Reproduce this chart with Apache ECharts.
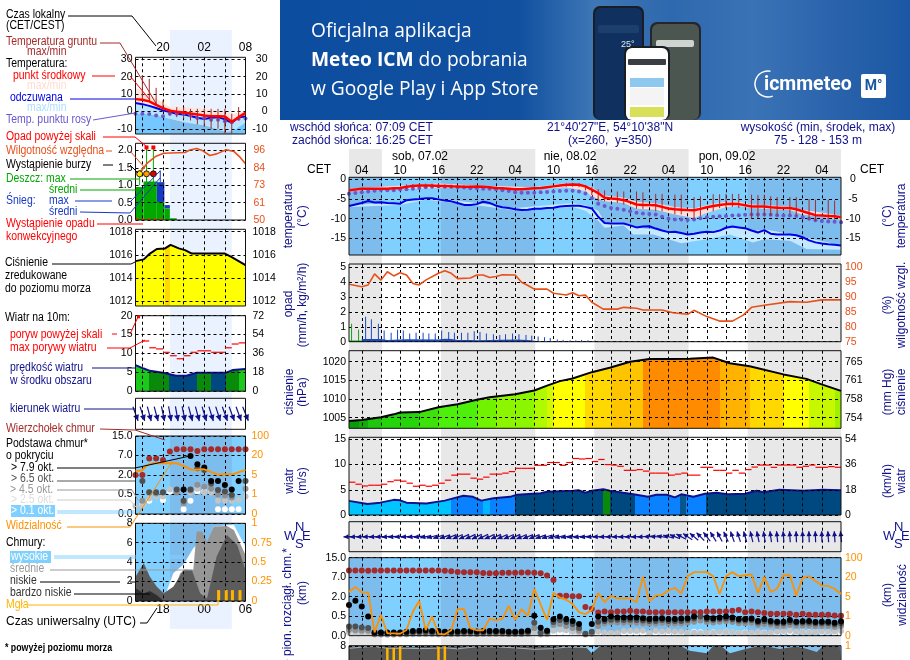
<!DOCTYPE html>
<html>
<head>
<meta charset="utf-8">
<title>Meteogram ICM</title>
<style>
html,body{margin:0;padding:0;background:#fff;overflow:hidden}
#myCanvas{width:910px;height:660px}
</style>
<script src="https://cdn.jsdelivr.net/npm/echarts@6/dist/echarts.min.js"></script>
</head>
<body>
<div id="myCanvas"></div>
<script>
// ---- main (right) meteogram, x = hours since 02:00 sat 07.02 -------------
var mainNight = [[0,5.15],[14.4,29.15],[38.4,53.15],[62.4,77]];
var mainGridHours = [2,5,8,11,14,17,20,23,26,29,32,35,38,41,44,47,50,53,56,59,62,65,68,71,74];
var mainLabelHours = [2,8,14,20,26,32,38,44,50,56,62,68,74];

var mainTemp = [-2.8,-2.6,-2.4,-2.4,-2.4,-2.4,-2.4,-2.3,-2.2,-1.9,-1.7,-1.6,-1.6,-1.6,-1.7,-1.7,-1.8,-1.85,-1.9,-1.9,
  -1.85,-1.9,-2.0,-2.2,-2.3,-2.4,-2.5,-2.5,-2.4,-2.3,-2.2,-2.0,-1.8,-1.6,-1.4,-1.3,-1.4,-1.8,-2.6,-3.5,
  -4.7,-4.9,-5.0,-5.3,-5.8,-6.4,-6.5,-6.5,-6.6,-7.0,-7.4,-7.6,-7.7,-7.8,-7.85,-7.5,-7.1,-6.8,-6.5,-6.3,
  -6.2,-6.3,-6.6,-6.9,-6.9,-6.9,-7.1,-7.2,-7.3,-7.3,-7.6,-8.1,-8.6,-9.1,-9.2,-9.3,-9.4,-9.6];
var mainFeels = [-6.8,-6.4,-6.0,-5.5,-5.9,-5.8,-6.0,-6.1,-6.2,-5.3,-5.1,-5.0,-4.8,-4.8,-5.1,-5.4,-5.6,-6.0,-6.5,-6.5,
  -6.3,-5.7,-6.0,-6.7,-7.1,-7.3,-7.6,-7.8,-7.7,-7.5,-7.5,-7.3,-7.2,-6.9,-6.8,-6.7,-6.7,-7.0,-7.4,-9.5,
  -11.1,-11.2,-11.2,-11.2,-11.7,-12.2,-12.0,-11.9,-12.5,-13.0,-13.4,-13.3,-13.6,-14,-13.8,-13.5,-13.3,-13.4,-13,-12.3,
  -12,-12.2,-12.4,-13,-13.5,-12.9,-13.8,-14,-14,-14,-14.2,-14.7,-15.5,-16,-16.3,-16.5,-16.6,-16.8];
var mainDew = [-3.7,-3.5,-3.3,-3.1,-2.9,-2.7,-2.8,-2.8,-2.6,-2.5,-2.4,-2.2,-2.0,-1.9,-1.8,-1.9,-1.9,-2.0,-2.1,-2.3,
  -2.3,-2.4,-2.4,-2.5,-2.8,-3.0,-3.3,-3.4,-3.4,-3.4,-3.3,-3.2,-3.1,-3.0,-2.9,-2.9,-3.1,-3.6,-4.8,-6.2,
  -6.8,-7.3,-7.5,-7.7,-8.1,-8.5,-8.7,-8.8,-8.9,-9.5,-10,-10.2,-10.2,-10.3,-10.2,-9.9,-9.6,-9.5,-9.4,-9.3,
  -9.2,-9.1,-9.0,-8.9,-8.9,-8.9,-9.0,-9.1,-9.2,-9.2,-9.3,-9.6,-10,-10.4,-10.6,-10.7,-10.8,-10.9];
var tempBandHours = [0,9,14,20,29,34,37,38,40,43,45,48,51,54,56,59,61,63,69,71,77];
var tempBandHi = [-2.4,-1.5,-1.1,-1.6,-2,-1,-1.5,-2.0,-4.1,-4.7,-5.7,-6.1,-7,-7.4,-6.6,-5.7,-5.7,-6.4,-6.9,-7.7,-9.2];
var tempBandLo = [-3,-2.4,-2.2,-2.2,-2.6,-2,-3,-4.3,-5.6,-6,-7.5,-7.7,-8.9,-9.8,-8.5,-7.1,-6.8,-7.3,-7.8,-8.9,-10.2];
var feelsBandHours = [0,8,12,20,26,35,37,39,40,43,44.5,47.6,52,56,59.6,63.2,65,69,71.6,77];
var feelsBandHi = [-6.5,-5.9,-4.5,-6,-7.3,-6,-6.5,-8,-10.9,-11,-12.2,-12.7,-13.9,-13.5,-11.9,-13.2,-12.7,-13.9,-14.8,-16.7];
var feelsBandLo = [-7,-6.5,-5.2,-6.6,-7.9,-7,-8,-10.5,-12.3,-11.7,-14,-14,-16.2,-15.2,-14,-16,-15.2,-15.6,-17.7,-17.9];
var soilHours = [9,10,11,12,13,14,15,16,17,18,19,34,35,36,37,38,39,40,42,43,45,46,48,49,51,52,54,55,57,58,59,60,61,63,64,65,66,67,69,70,72,73,75,76];
var soilMax = [-1.3,-1.2,-1.1,-1.1,-1.1,-1.2,-1.3,-1.4,-1.5,-1.6,-1.6,-1,-.9,-1,-1.5,-2,-2.5,-2.8,-3.1,-3.1,-3.1,-3.3,-3.7,-3.7,-3.9,-3.9,-4.5,-4.3,-3.8,-3.8,-3.7,-3.7,-3.7,-3.9,-4,-3.9,-4.3,-4.5,-4.5,-4.5,-5,-5.2,-5.2,-5.4];
var soilMin = [-2.3,-2.2,-2.2,-2.1,-2.1,-2.2,-2.2,-2.2,-2.2,-2.2,-2.2,-1.9,-1.8,-2,-2.8,-4,-5.6,-5.6,-6,-6.4,-7.5,-7.5,-8.1,-8.1,-8.9,-8.9,-10.2,-9.3,-8.1,-7.3,-7.3,-7,-7.3,-10,-9.8,-9.3,-9.3,-9.2,-8.9,-9.3,-10.2,-10.6,-10.2,-10.2];

var humHours = [0,2,3,4,5,6,7,8,9,10,11,12,14,15,16,17,19,20,21,22,23,24,26,27,28,29,31,32,34,35,36,37,38,39.8,42,43,45,46,49,50.7,53,54,56,58,60,61.7,63,65,69,71.6,74,77];
var humidity = [94.2,93.4,94,97.7,95.6,98.4,97,98.1,97.3,94.5,94,95.6,97.9,98.7,97.9,96.1,96.3,97.3,97.3,96.5,96.8,97.4,97.3,94.9,93.8,92.6,92.6,91.2,90.6,91.4,90.4,90.6,88.2,85.9,85.9,86.5,86.2,85.6,85.6,84.7,84.2,85.5,83.4,81.9,81.9,83.9,86.5,87.2,88.4,88.2,89,89];
var rainMaxHours = [.4,1.5];
var rainMax = [1.2,.8];
var snowMaxHours = [2.6,3.5,4.6,5.5,6.6,7.6,8.5,9.5,10.5,11.6,12.5,13.5,14.5,15.6,16.5,17.6,18.6,19.6,20.5,21.5,22.6,23.6,24.5,25.6,26.6,27.7,28.6,29.6,30.6,31.5,32.6,33.5,34.6,35.5,36.4,37.4,38.5];
var snowMax = [1.67,1.5,1.2,.75,.6,.8,.75,.55,.6,.6,.55,.55,.75,.65,.6,.6,.6,.7,.65,.55,.5,.45,.5,.55,.5,.45,.4,.35,.3,.25,.15,.12,.1,.1,.12,.1,.08];
var snowMeanHours = [2,5,6,8,9,14,15,16,17,19,20,26,28,29,30];
var snowMean = [.18,.18,.12,.15,.16,.14,.2,.18,.12,.12,.1,.14,.12,.06,0];

var pressHours = [0,2,5,7,8,11,14,17,20,22,26,29,31,33,35,38,40.8,44,47,50.2,53.3,57,59.6,62.7,68,71.6,74.2,77];
var pressure = [1004.1,1004.4,1005.1,1005.9,1006.4,1006.5,1007.8,1008.6,1009.8,1010.5,1011.3,1012.3,1013.6,1014.8,1015.5,1017.2,1018.4,1020,1020.7,1020.7,1020.8,1021.1,1019.6,1018.8,1016.6,1015.4,1013.8,1012.2];
var pressColorEnds = [1.5,3,5,11,14,20,23,29,31,32,37,41,46,58,62.7,68,72,76,77];
var pressColors = ['#0a9a0a','#11ae0b','#1ec70e','#26d40c','#3ce20a','#4cf00a','#70f200','#8cf600','#b0fa00','#d4f800','#ffff00','#ffd800','#ffc400','#ff8c00','#ffb200','#ffd800','#ffff00','#c8f800','#a0f000'];

var windHours = [0,2.9,4.9,7,8,9,12.1,15,16.3,17.9,19.4,20.7,22.6,25.2,26.3,30,31,35.1,35.9,37,38,39.8,40.8,42.9,44.5,46.8,48.1,49.7,51,52,53.9,55.7,57.5,59.3,62,63.8,64.8,67.4,71.1,74.2,77];
var wind = [2.8,2.2,2.45,3,2.9,2.45,2.3,2.85,3.3,3.8,3.6,2.85,3.3,3.6,4,4.3,4.6,4.8,4.9,4.4,4.8,5.1,4.8,4.4,4.1,3.6,4,4,3.5,4.1,3.6,4.2,4.4,4.1,4.2,4.8,4.5,5,4.8,5,4.9];
var windColorEnds = [16,21,22,26,39.8,40.8,44.7,51.8,52.8,55.9,77];
var windColors = ['#00c4ff','#0a82ff','#00b4ff','#0a82ff','#004880','#0a8a0a','#004880','#0a82ff','#04568c','#0a82ff','#004880'];
var gust = [6.5,6.1,5.75,5.9,5.9,6.1,6.6,6.9,6.7,6.3,5.7,5.9,5.7,5.9,6.3,6.9,7.9,8.1,8.1,7.3,7.1,7.5,8.1,8.1,8.3,8.6,9.25,9.25,9.25,9.85,9.85,10.4,10.4,9.85,10.4,11.2,11.1,11.2,10.6,
  11,10,9.9,9.65,8.85,8.85,9,8.7,8.3,8.3,8.3,7.9,8.1,8.3,7.9,7.9,9.45,9.45,8.85,8.85,8.3,8.85,8.3,9,9.5,9.9,9.9,9.45,9.9,9.9,9.9,9.45,9.65,9.9,9.45,9.45,9.6,9.45];
var mainDir = [88,88,87,87,86,86,85,85,84,84,83,82,
  78,75,72,70,68,66,65,65,64,64,65,65,66,66,65,66,68,68,70,72,74,76,78,80,80,
  82,84,86,88,88,88,88,88,88,88,
  92,96,100,106,112,118,124,130,136,142,148,
  152,156,160,162,164,166,168,170,172,174,176,176,178,178,178,178,178,176,176,174];

// cloud heights and visibility: position on the uneven axis (0=0, 1=0.5km, 2=2km, 3=7km, 4=15km; 0,1,5,20,100 km for visibility)
var heightTicks = [0,1,2,3,4];
var heightLabels = ['0.0','0.5','2.0','7.0','15.0'];
var visLabels = ['0','1','5','20','100'];
var mainVis = [2.24,2.5,2.22,2.21,.17,1.07,.12,.12,.1,.29,1.24,1.79,.29,.98,.09,.07,.28,1.36,1.36,.38,.28,.28,.86,.79,.86,1.53,.81,1.36,1.03,2.41,1.59,.81,2.21,1.95,1.84,1.62,1.21,1.1,1.33,2.19,
  1.71,2.05,1.91,1.91,1.91,1.72,3.03,1.76,2.05,2.09,2.33,2.45,2.17,3.05,3.26,3.26,3.26,3.05,2.14,3.05,3.26,3.05,3.1,3.14,2.19,3.02,2.24,2.41,3.1,3.1,2.05,2.97,3.05,2.8,2.57,2.55,2.41,2.14];
var mainCloudTop = [3.34,3.34,3.34,3.33,3.34,3.34,3.35,3.35,3.34,3.34,3.34,3.34,3.34,3.34,3.34,
  3.33,3.3,3.27,3.26,3.26,3.26,3.22,3.2,3.2,3.23,3.23,3.23,3.24,3.24,
  3.23,3.2,3.09,2.86,2.05,2.05,2.02,2.02,1.47,1.38,1.19,
  1.24,1.2,1.24,1.24,1.28,1.24,1.24,1.2,1.2,1.2,1.2,1.2,1.2,1.2,1.2,1.2,1.24,1.24,1.24,1.24,1.28,1.32,1.2,1.24,1.2,1.16,1.12,1.12,1.12,1.12,1.08,1.12,1.08,1.08,1.08,1.08,1.04,1.02];
var mainBase79 = [1.58,1.79,1.5,.98,.17,.16,.16,.16,.17,.2,.24,.26,.28,.24,.24,.2,.2,.22,.24,.24,.22,.24,.24,.24,.24,.2,.2,.22,.26,
  1.02,.41,.26,.84,.98,.84,.76,.6,null,.6,.98,
  .86,.98,.93,.93,.93,.93,.9,.86,.88,.9,.86,.86,.88,.9,.98,null,.93,.9,.93,.98,.93,.86,.86,.88,
  .76,.84,.76,.72,.72,.8,.72,.74,.76,.7,.72,.72,.66,.74];
var mainBase65 = [.47,.47,.42,.4,.12,.12,.12,.12,.13,.14,.16,.18,.18,.16,.14,.14,.14,.14,.16,.16,.14,.16,.16,.16,.16,.14,.14,.14,.18,
  .67,.17,.2,.7,.8,.7,.6,.4,.1,.2,.72,
  .75,.82,.82,.8,.82,.8,.78,.75,.75,.8,.76,.76,.76,.8,.88,.98,.84,.82,.86,.88,.84,.78,.78,.8,.68,.74,.68,.64,.64,.7,.66,.66,.66,.62,.64,.64,.58,.64];
var mainBase45 = [.3,.28,.26,.25,.08,.08,.08,.08,.1,.1,.12,.13,.13,.12,.1,.1,.1,.1,.12,.12,.1,.12,.12,.12,.12,.1,.1,.1,.13,
  .4,.1,.12,.55,.6,.5,.4,.25,.08,.1,.5,
  .62,.68,.68,.66,.68,.66,.64,.62,.62,.66,.62,.62,.62,.66,.72,.78,.7,.68,.72,.74,.7,.64,.64,.66,.56,.6,.56,.5,.5,.56,.52,.52,.52,.48,.5,.5,.45,.5];
var mainBase25 = [.16,.16,.12,.12,.05,.05,.05,.05,.06,.06,.07,.08,.08,.07,.06,.06,.06,.06,.07,.07,.06,.07,.07,.07,.07,.06,.06,.06,.08,
  .12,.06,.08,.25,.3,.28,.2,.15,.06,.14,.2,
  .16,.15,.14,.24,.24,.24,.26,.14,.24,.22,.24,.2,.2,.14,.16,.14,.16,.16,.2,.2,.18,.14,.14,.16,.18,.14,.16,.2,.24,.26,.2,.2,.18,.2,.22,.2,.22,.24];
var mainBase01 = [.1,.1,.08,.08,.03,.03,.03,.03,.04,.04,.05,.05,.05,.05,.04,.04,.04,.04,.05,.05,.04,.05,.05,.05,.05,.04,.04,.04,.05,
  .06,.04,.05,.1,.12,.12,.1,.1,.04,.06,.1,
  .1,.1,.1,.12,.12,.12,.12,.1,.14,.14,.14,.12,.12,.14,.2,.18,.14,.18,.14,.2,.16,.14,.16,.12,.16,.16,.14,.14,.2,.18,.18,.2,.18,.2,.18,.18,.16,.12];
var mainLowHours = [0,1.7,3.8,4.9,5.9,10,12.2,15.3,20.5,25.7,30.9,36.1,37.2,38,39.3,42.9,44,50.2,52,53.3,56,57,58.3,59.6,62.2,63.8,65.9,67.4,70,71.6,73.2,74.2,76.8,77];
var mainLowCloud = [7.66,7.9,7.66,7.83,8,7.5,7.83,7.9,7.76,7.83,7.83,7.66,7.14,5,7.83,8,7.66,8,7.83,6,5,7.93,7.83,5,6.8,7.66,7.55,6.7,7.76,6.8,5.5,8,8,8];
var mainMidHours = [0,2,4,6,9,12,15,17,20,23,26,29,32,34,38];
var mainMidCloud = [7,7.5,7.8,7,7,6.9,7.2,6.8,7.7,7.6,7.2,6.6,6.9,7.5,7.4];
var mainFogHours = [6,7,8,14,15];
var mainFog = [.9,.9,1,.98,1];

// ---- left legend meteogram, x = hours from the panel's left edge ---------
var leftNight = [[5,14]];
var leftGridHours = [1,4,7,10,13];
var leftLabelHours = [4,10,16];
var leftTemp = [7.1,6.7,5.8,3.8,1.9,.4,-.2,-.6,-1.2,-1.7,-2.4,-2.7,-2.8,-2.9,-6,-3.3,-.8];
var leftFeels = [4.8,4.2,3.2,2,.6,-.4,-1.3,-1.7,-2.6,-3.6,-4.4,-3.6,-3.3,-4.6,-6.6,-3.4,-2.9];
var leftDew = [-1.4,-1.3,-1.5,-2.3,-2.7,-1.3,-1.3,-1.4,-2.3,-3.8,-3.8,-4.8,-4.8,-5.6,-6.2,-4.2,-4];
var leftSoilHours = [1,2,3,4,5,6,7,8,9,10,11,12,13,14,15];
var leftSoilMax = [20.8,18.8,13.6,6.4,1.5,2.5,2.5,1.5,1.5,1.5,1.5,1.5,1.5,-1.3,2.5];
var leftSoilMin = [6.7,5.8,3.8,1.9,-2.3,-3.3,-4.2,-5.2,-7.5,-8.7,-10,-10,-12.8,-12.8,-5.2];
var leftBandHours = [0,1.2,3.1,5,7.1,10.1,13.2,14.3,16];
var leftPinkHi = [13.5,11.2,7.3,2.5,2.5,1.5,-.4,-1.3,.6];
var leftPinkLo = [4.4,4,1.5,-.8,-1.3,-3.3,-4.2,-6.7,-2.3];
var leftPaleLo = [-1.3,-1.3,-2.3,-4.2,-6.2,-8.1,-11.9,-11,-6.2];
var leftHumHours = [0,.9,1.7,2.9,4.1,7.2,7.9,8.9,9.8,10.8,11.8,13.2,14.3,15.2,16];
var leftHum = [81.4,83,87.6,92,94.2,94.7,96.4,97.3,95.8,92.7,93.8,96.5,95.4,91.6,87.2];
var leftRainEdges = [0,1.17,3.1,4.2,5,6];
var leftRainMean = [.95,1.11,.52,.33,.05];
var leftSnowTop = [.95,1.11,1.09,.43,.05];
var leftRainMaxHours = [.6,1.6,2.6];
var leftRainMax = [1.33,2.1,2.1];
var leftStormColors = ['#ffe000','#ff9a00','#e00000'];
var leftPressHours = [0,1.2,2.1,3.1,4.3,5.1,6.3,7.2,8.2,13,14,16];
var leftPressure = [1015.45,1015.6,1016.1,1016.5,1016.55,1016.85,1016.55,1016.4,1016.1,1016.1,1015.8,1015.1];
var leftWindHours = [0,1.2,2.1,4,5.9,7.4,8.9,13.2,14.1,16];
var leftWind = [6.9,6,5.4,4.9,4.1,4.1,4.9,4.9,5.6,5.9];
var leftWindEnds = [1.9,4.9,8.9,11,13.1,15,16];
var leftWindColors = ['#1cc81c','#0a8a0a','#004880','#0a8a0a','#004880','#0a8a0a','#1cc81c'];
var leftGustHours = [1,2,3,4,5,6,7,8,9,10,11,12,13,14,15];
var leftGust = [13.3,11.5,11.2,10.3,9.4,8.6,9.4,10.3,10.7,10.7,10.3,10.3,11.5,12.5,12.8];
var leftDir = [340,342,345,345,348,350,350,348,345,345,343,343,342,340,340,340,338];
var leftVisHours = [0,.9,1.7,2.6,6,7.2,8.2,9.9,11.9,14.3,16];
var leftVis = [2.22,2.22,2.51,2.6,2.6,2.43,2.26,2.3,2.03,2.05,2.26];
var leftCloudTop = [2,2,2.85,2.85,2.77,3.2,3.32,3.32,3.32,3.23,3.32,3.32,3.32,3.32,3.32,3.32,3.32];
var leftBase79 = [null,null,null,null,null,null,null,1.26,2.97,2.55,2.38,1.69,1.69,1.49,1.26,1.69,null];
var leftBase65 = [null,1.69,1.11,1.11,1.11,null,1.26,.68,1.26,2.34,2.26,1.57,1.23,1.15,.98,null,1.69];
var leftBase45 = [null,.68,1.1,1.05,1.1,null,1.1,.55,1.2,1.5,1.4,1.3,1,.95,.85,null,1.3];
var leftBase25 = [.41,.45,.8,.9,.9,1.26,1.23,null,1.1,1.3,1.1,1.1,.68,.68,.68,.72,.9];
var leftBase01 = [null,.47,.68,null,.72,1.15,null,.24,.68,1.15,1.15,1.15,.24,.24,.24,.24,null];
var leftHighHours = [4.1,4.6,5.5,7,8.4,8.9,10.4,11.4,14.3,15.2,16];
var leftHigh = [0,1.13,2.85,3.78,5.43,5.77,5.95,7.66,7.84,6.63,5.6];
var leftMidHours = [5,6.5,7.2,8.4,8.9,9.7,10.4,11.4,13.3,14.3,15.2,16];
var leftMid = [0,2.85,3.26,3.2,7.15,7.15,6.1,7.66,7.73,7.3,5.95,4.74];
var leftLowHours = [0,1.2,2.1,3.1,4.1,5.5,7,8.2,9.4,10.4,11.8,13.3,14.8,16];
var leftLow = [2.5,3.88,2.5,1.48,.79,1.48,3.2,3.2,.79,.27,4.57,6.8,5.77,3.2];
var leftVLowHours = [0,1.2,2.1,3.1,4.1];
var leftVLow = [1.3,.8,1.03,.6,0];
var leftFogHours = [12.1,13.2,14.1,15.2];
var leftFog = [.14,.14,.14,.14];

var NAVY = '#10108c', ORANGE = '#ff9000', HUM = '#e8501a';
var DAY_BLUE = '#80d0ff', NIGHT_BLUE = '#7dbdee';
var FONT = '"Liberation Sans", Arial, sans-serif';
var xAxes = [], yAxes = [], grids = [], series = [];

function dash() { return { type: [3, 3], width: 1, color: '#000' }; }
function plain(v) { return '' + v; }
function pts(xs, ys) {
  var out = [];
  ys.forEach(function (v, i) { if (v !== null) out.push([xs ? xs[i] : i, v]); });
  return out;
}
function hardStops(xMax, ends, colors) {
  var stops = [], from = 0;
  ends.forEach(function (e, i) {
    stops.push({ offset: from / xMax, color: colors[i] });
    stops.push({ offset: e / xMax, color: colors[i] });
    from = e;
  });
  return new echarts.graphic.LinearGradient(0, 0, 1, 0, stops);
}

function addPanel(o) {
  var g = grids.length;
  grids.push({ left: o.left, top: o.top, width: o.width, height: o.height, show: !o.hidden, borderColor: '#111', borderWidth: 1, backgroundColor: 'transparent', z: 5 });
  xAxes.push({
    gridIndex: g, type: 'value', min: 0, max: o.xMax, show: !o.hidden, position: o.xPos || 'bottom', z: 3,
    axisLine: { show: false },
    axisTick: { show: false, customValues: o.xGrid },
    splitLine: { show: !!o.xGrid, lineStyle: dash() },
    axisLabel: { show: !!o.xLabels, customValues: o.xLabels, formatter: o.xFmt, color: '#000', fontSize: 12, fontFamily: FONT, margin: o.xMargin || 4 }
  });
  yAxes.push({
    gridIndex: g, type: 'value', min: o.yMin, max: o.yMax, show: !o.hidden, z: 3,
    axisLine: { show: false },
    axisTick: { show: false, customValues: o.yTicks },
    splitLine: { show: !!o.yTicks && !o.noYGrid, lineStyle: dash() },
    axisLabel: { show: !!o.yTicks, customValues: o.yTicks, formatter: o.yFmt || plain, color: '#000', fontSize: 10.5, fontFamily: FONT, margin: 3 }
  });
  yAxes.push({
    gridIndex: g, type: 'value', position: 'right', min: o.rMin !== undefined ? o.rMin : o.yMin, max: o.rMax !== undefined ? o.rMax : o.yMax, show: !o.hidden, z: 3,
    axisLine: { show: false }, axisTick: { show: false }, splitLine: { show: false },
    axisLabel: { show: !!o.rTicks, customValues: o.rTicks, formatter: o.rFmt || plain, color: o.rColor || '#000', fontSize: 10.5, fontFamily: FONT, align: o.rAlign || 'left', margin: o.rMargin || 4 }
  });
  return g;
}
function spans(g, rows, color) {
  series.push({
    type: 'custom', xAxisIndex: g, yAxisIndex: 2 * g, z: 0, silent: true, data: rows,
    renderItem: function (p, api) {
      var a = api.coord([api.value(0), 0])[0], b = api.coord([api.value(1), 0])[0];
      return { type: 'rect', shape: { x: a, y: p.coordSys.y, width: b - a, height: p.coordSys.height }, style: { fill: color } };
    }
  });
}
function band(g, xs, hi, lo, color, z) {
  var rows = xs.map(function (x, i) { return [x, hi[i], lo[i]]; });
  series.push({
    type: 'custom', xAxisIndex: g, yAxisIndex: 2 * g, z: z || 1, silent: true, data: rows,
    renderItem: function (p, api) {
      if (p.dataIndex !== 0) return null;
      var up = rows.map(function (r) { return api.coord([r[0], r[1]]); });
      var down = rows.map(function (r) { return api.coord([r[0], r[2]]); }).reverse();
      return { type: 'polygon', shape: { points: up.concat(down) }, style: { fill: color } };
    }
  });
}
function line(g, xs, ys, color, width, right, z) {
  series.push({ type: 'line', xAxisIndex: g, yAxisIndex: 2 * g + (right ? 1 : 0), data: pts(xs, ys), showSymbol: false, silent: true, z: z || 4, lineStyle: { color: color, width: width } });
}
function area(g, xs, ys, fill, edge, width, z) {
  series.push({
    type: 'line', xAxisIndex: g, yAxisIndex: 2 * g, data: pts(xs, ys), showSymbol: false, silent: true, z: z || 1,
    lineStyle: { color: edge || fill, width: width === undefined ? 0 : width },
    areaStyle: { color: fill, opacity: 1, origin: 'start' }
  });
}
function dots(g, xs, ys, color, size, z) {
  series.push({ type: 'scatter', xAxisIndex: g, yAxisIndex: 2 * g, data: pts(xs, ys), symbolSize: size, silent: true, z: z || 4, itemStyle: { color: color, opacity: 1 } });
}
// rows: [x, low, high]
function whiskers(g, xs, lo, hi, color, width, right, z) {
  var rows = xs.map(function (x, i) { return [x, lo[i], hi[i]]; });
  series.push({
    type: 'custom', xAxisIndex: g, yAxisIndex: 2 * g + (right ? 1 : 0), z: z || 3, silent: true, data: rows,
    renderItem: function (p, api) {
      var a = api.coord([api.value(0), api.value(1)]), b = api.coord([api.value(0), api.value(2)]);
      return { type: 'line', shape: { x1: a[0], y1: a[1], x2: b[0], y2: b[1] }, style: { stroke: color, lineWidth: width } };
    }
  });
}
// rows: [start, end, value], one short level per step
function steps(g, xs, ys, color) {
  var rows = ys.map(function (v, i) { var x = xs ? xs[i] : i; return [x, x + 1, v]; });
  series.push({
    type: 'custom', xAxisIndex: g, yAxisIndex: 2 * g, z: 4, silent: true, data: rows,
    renderItem: function (p, api) {
      var a = api.coord([api.value(0), api.value(2)]), b = api.coord([api.value(1), api.value(2)]);
      return { type: 'line', shape: { x1: a[0], y1: a[1], x2: b[0], y2: b[1] }, style: { stroke: color, lineWidth: 1.2 } };
    }
  });
}
function rects(g, edges, lo, hi, color) {
  var rows = hi.map(function (v, i) { return [edges[i], edges[i + 1], lo ? lo[i] : 0, v]; });
  series.push({
    type: 'custom', xAxisIndex: g, yAxisIndex: 2 * g, z: 2, silent: true, data: rows,
    renderItem: function (p, api) {
      var a = api.coord([api.value(0), api.value(3)]), b = api.coord([api.value(1), api.value(2)]);
      return { type: 'rect', shape: { x: a[0], y: a[1], width: b[0] - a[0], height: b[1] - a[1] }, style: { fill: color } };
    }
  });
}
function arrows(g, dirs, len, head) {
  series.push({
    type: 'custom', xAxisIndex: g, yAxisIndex: 2 * g, z: 4, silent: true, clip: false, data: dirs.map(function (d, i) { return [i, d]; }),
    renderItem: function (p, api) {
      var c = api.coord([api.value(0), 0]), a = (api.value(1) + 180) * Math.PI / 180;
      var dx = Math.sin(a), dy = -Math.cos(a);
      var tx = c[0] - dx * len / 2, ty = c[1] - dy * len / 2, hx = c[0] + dx * len / 2, hy = c[1] + dy * len / 2;
      var color = NAVY;
      return { type: 'group', children: [
        { type: 'line', shape: { x1: tx, y1: ty, x2: hx, y2: hy }, style: { stroke: color, lineWidth: 1.2 } },
        { type: 'polygon', shape: { points: [[hx, hy], [hx - dx * head - dy * head / 2, hy - dy * head + dx * head / 2], [hx - dx * head + dy * head / 2, hy - dy * head - dx * head / 2]] }, style: { fill: color } }
      ] };
    }
  });
}
function blueBack(g, xMax, night) {
  spans(g, [[0, xMax]], DAY_BLUE);
  spans(g, night, NIGHT_BLUE);
}
function twoDigit(h) { var v = ((h % 24) + 24) % 24; return (v < 10 ? '0' : '') + v; }
function lookup(ticks, labels) { return function (v) { return labels[ticks.indexOf(v)]; }; }
function cloudDots(g, xs, top, b01, b25, b45, b65, b79) {
  dots(g, xs, b01, '#fff', 6, 3);
  dots(g, xs, b25, '#c4c4c4', 6, 3);
  dots(g, xs, b45, '#909090', 6, 3);
  dots(g, xs, b65, '#505050', 6, 3);
  dots(g, xs, top, '#a52a2a', 6, 4);
  dots(g, xs, b79, '#000', 6, 4);
}

// ---- main panels ---------------------------------------------------------
var ML = 349, MW = 492, MXMAX = 77;
var gBack = addPanel({ left: ML, top: 149, width: MW, height: 511, xMax: MXMAX, yMin: 0, yMax: 1, hidden: true });
spans(gBack, mainNight, '#e8e8e8');

var gTemp = addPanel({ left: ML, top: 177.3, width: MW, height: 77.7, xMax: MXMAX, xGrid: mainGridHours, xLabels: mainLabelHours, xPos: 'top', xMargin: 1,
  xFmt: function (h) { return twoDigit(h + 2); }, yMin: -19.2, yMax: .5, yTicks: [-15, -10, -5, 0], rTicks: [-15, -10, -5, 0], rAlign: 'center', rMargin: 12 });
blueBack(gTemp, MXMAX, mainNight);
band(gTemp, tempBandHours, tempBandHi, tempBandLo, '#ffdcd4', 1);
band(gTemp, feelsBandHours, feelsBandHi, feelsBandLo, '#c4e8ff', 1);
whiskers(gTemp, soilHours, soilMin, soilMax, '#a52a2a', 1, false, 5);
dots(gTemp, null, mainDew, '#6a5acd', 4, 4);
line(gTemp, null, mainFeels, '#0000e6', 2);
line(gTemp, null, mainTemp, '#ff0000', 2.5, false, 6);

var gRain = addPanel({ left: ML, top: 264, width: MW, height: 77.7, xMax: MXMAX, xGrid: mainGridHours, yMin: 0, yMax: 5.2, yTicks: [0, 1, 2, 3, 4, 5],
  rMin: 75, rMax: 101, rTicks: [75, 80, 85, 90, 95, 100], rColor: HUM });
series.push({ type: 'line', xAxisIndex: gRain, yAxisIndex: 2 * gRain, data: pts(snowMeanHours, snowMean), showSymbol: false, silent: true, z: 2, lineStyle: { width: 0 }, areaStyle: { color: '#1848c8', opacity: 1, origin: 'start' } });
whiskers(gRain, rainMaxHours, [0, 0], rainMax, '#10a810', 1);
whiskers(gRain, snowMaxHours, snowMax.map(function () { return 0; }), snowMax, '#1848c8', 1);
line(gRain, [0, 2], [.03, .03], '#10a810', 1.5);
line(gRain, humHours, humidity, HUM, 1.6, true);

var gPress = addPanel({ left: ML, top: 350.7, width: MW, height: 77.6, xMax: MXMAX, xGrid: mainGridHours, yMin: 1002.16, yMax: 1022.95, yTicks: [1005, 1010, 1015, 1020],
  rTicks: [1005, 1010, 1015, 1020], rFmt: function (v) { return Math.round(v * 0.75006); } });
area(gPress, pressHours, pressure, hardStops(MXMAX, pressColorEnds, pressColors), '#000', 2);

var gWind = addPanel({ left: ML, top: 437.3, width: MW, height: 77.7, xMax: MXMAX, xGrid: mainGridHours, yMin: 0, yMax: 15.4, yTicks: [0, 5, 10, 15],
  rTicks: [0, 5, 10, 15], rFmt: function (v) { return v * 3.6; } });
area(gWind, windHours, wind, hardStops(MXMAX, windColorEnds, windColors), '#10108c', 2);
steps(gWind, null, gust, '#ff0000');

var gDir = addPanel({ left: ML, top: 521.7, width: MW, height: 30, xMax: MXMAX, xGrid: mainGridHours, yMin: -1, yMax: 1 });
arrows(gDir, mainDir, 11, 5);

var gCloud = addPanel({ left: ML, top: 557.7, width: MW, height: 78, xMax: MXMAX, xGrid: mainGridHours, yMin: 0, yMax: 4, yTicks: heightTicks, yFmt: lookup(heightTicks, heightLabels),
  rTicks: heightTicks, rFmt: lookup(heightTicks, visLabels), rColor: ORANGE });
blueBack(gCloud, MXMAX, mainNight);
cloudDots(gCloud, null, mainCloudTop, mainBase01, mainBase25, mainBase45, mainBase65, mainBase79);
line(gCloud, null, mainVis, ORANGE, 1.8, false, 5);

var gSky = addPanel({ left: ML, top: 645.7, width: MW, height: 77.7, xMax: MXMAX, xGrid: mainGridHours, yMin: 0, yMax: 8.1, yTicks: [8], rMin: 0, rMax: 1.0125, rTicks: [1], rColor: ORANGE });
blueBack(gSky, MXMAX, mainNight);
area(gSky, mainLowHours, mainLowCloud, '#555555');
line(gSky, mainMidHours, mainMidCloud, '#aaaaaa', 1, false, 2);
whiskers(gSky, mainFogHours, mainFog.map(function () { return 0; }), mainFog, '#ffb400', 2.5, true, 4);

// ---- left legend panels --------------------------------------------------
var LL = 135.5, LW = 110, LXMAX = 16;
var gLeftBack = addPanel({ left: LL, top: 30, width: LW, height: 599, xMax: LXMAX, yMin: 0, yMax: 1, hidden: true });
spans(gLeftBack, leftNight, '#eaf2ff');

var lTemp = addPanel({ left: LL, top: 57.3, width: LW, height: 76.7, xMax: LXMAX, xGrid: leftGridHours, xLabels: leftLabelHours, xPos: 'top', xMargin: 4,
  xFmt: function (h) { return twoDigit(h + 16); }, yMin: -13, yMax: 31.2, yTicks: [-10, 0, 10, 20, 30], rTicks: [-10, 0, 10, 20, 30], rAlign: 'right', rMargin: 22 });
band(lTemp, leftBandHours, leftPinkHi, leftPinkLo, '#ffe4dc', 1);
band(lTemp, leftBandHours, leftPinkLo, leftPaleLo, '#b8e4ff', 1);
band(lTemp, leftBandHours, leftPaleLo, leftPaleLo.map(function () { return -13; }),
  hardStops(LXMAX, [5, 14, 16], ['#74c8ff', '#7dbdee', '#74c8ff']), 1);
whiskers(lTemp, leftSoilHours, leftSoilMin, leftSoilMax, '#a52a2a', 1, false, 5);
dots(lTemp, null, leftDew, '#6a5acd', 4, 4);
line(lTemp, null, leftFeels, '#0000e6', 2);
line(lTemp, null, leftTemp, '#ff0000', 2.5, false, 6);

var lRain = addPanel({ left: LL, top: 143.3, width: LW, height: 76.7, xMax: LXMAX, xGrid: leftGridHours, yMin: 0, yMax: 2.21, yTicks: [0, .5, 1, 1.5, 2],
  yFmt: function (v) { return v.toFixed(1); }, rMin: 50, rMax: 100.8, rTicks: [50, 61.5, 73, 84.5, 96], rFmt: function (v) { return Math.floor(v); }, rColor: HUM, rMargin: 8 });
rects(lRain, leftRainEdges, leftRainMean, leftSnowTop, '#1838c8');
rects(lRain, leftRainEdges, null, leftRainMean, '#00a800');
whiskers(lRain, leftRainMaxHours, [1, 1, 1], leftRainMax, '#00b000', 1);
whiskers(lRain, [3.6], [1.09], [1.43], '#1838c8', 1);
series.push({ type: 'scatter', xAxisIndex: lRain, yAxisIndex: 2 * lRain, z: 6, silent: true, symbolSize: 6,
  data: leftRainMaxHours.map(function (h, i) { return { value: [h, 1.33], itemStyle: { color: leftStormColors[i], borderColor: '#000', borderWidth: .8, opacity: 1 } }; }) });
series.push({ type: 'scatter', xAxisIndex: lRain, yAxisIndex: 2 * lRain, z: 6, silent: true, symbol: 'rect', symbolSize: 4, itemStyle: { color: '#f00', opacity: 1 }, data: [[1.6, 2.09], [2.6, 2.09]] });
series.push({ type: 'line', xAxisIndex: lRain, yAxisIndex: 2 * lRain, z: 6, silent: true, showSymbol: false, data: [[0, .015], [4, .015]], lineStyle: { color: '#f00', width: 1.2, type: [3, 3] } });
line(lRain, leftHumHours, leftHum, HUM, 1.6, true);

var lPress = addPanel({ left: LL, top: 229.3, width: LW, height: 76.7, xMax: LXMAX, xGrid: leftGridHours, yMin: 1011.57, yMax: 1018.2, yTicks: [1012, 1014, 1016, 1018], rTicks: [1012, 1014, 1016, 1018], rMargin: 7 });
area(lPress, leftPressHours, leftPressure, hardStops(LXMAX, [4.3, 5, 16], ['#ffff00', '#ffd800', '#ffff00']), '#000', 2);

var lWind = addPanel({ left: LL, top: 315.7, width: LW, height: 75.5, xMax: LXMAX, xGrid: leftGridHours, yMin: 0, yMax: 20, yTicks: [0, 5, 10, 15, 20],
  rTicks: [0, 5, 10, 15, 20], rFmt: function (v) { return v * 3.6; }, rMargin: 7 });
area(lWind, leftWindHours, leftWind, hardStops(LXMAX, leftWindEnds, leftWindColors), '#10108c', 2);
steps(lWind, leftGustHours, leftGust, '#ff0000');
series.push({ type: 'scatter', xAxisIndex: lWind, yAxisIndex: 2 * lWind, z: 6, silent: true, symbol: 'rect', symbolSize: 3, itemStyle: { color: '#f00', opacity: 1 }, data: [[.44, 19.7]] });

var lDir = addPanel({ left: LL, top: 398.3, width: LW, height: 31, xMax: LXMAX, xGrid: leftGridHours, yMin: -1, yMax: 1 });
arrows(lDir, leftDir, 15, 6);

var lCloud = addPanel({ left: LL, top: 436, width: LW, height: 78, xMax: LXMAX, xGrid: leftGridHours, yMin: 0, yMax: 4, yTicks: heightTicks, yFmt: lookup(heightTicks, heightLabels),
  rTicks: heightTicks, rFmt: lookup(heightTicks, visLabels), rColor: ORANGE, rMargin: 6 });
blueBack(lCloud, LXMAX, leftNight);
cloudDots(lCloud, null, leftCloudTop, leftBase01, leftBase25, leftBase45, leftBase65, leftBase79);
line(lCloud, leftVisHours, leftVis, ORANGE, 2, false, 5);

var lSky = addPanel({ left: LL, top: 523.3, width: LW, height: 77.7, xMax: LXMAX, xGrid: leftGridHours, xLabels: leftLabelHours, xMargin: 3,
  xFmt: function (h) { return twoDigit(h + 14); }, yMin: 0, yMax: 8, yTicks: [0, 2, 4, 6, 8], rMin: 0, rMax: 1, rTicks: [0, .25, .5, .75, 1], rColor: ORANGE, rMargin: 6 });
blueBack(lSky, LXMAX, leftNight);
area(lSky, leftHighHours, leftHigh, '#ffffff');
area(lSky, leftMidHours, leftMid, '#969696');
area(lSky, leftLowHours, leftLow, '#5c5c5c');
area(lSky, leftVLowHours, leftVLow, '#2e2e2e');
whiskers(lSky, leftFogHours, leftFog.map(function () { return 0; }), leftFog, '#ffb400', 3, true, 4);

// ---- texts around the panels ---------------------------------------------
var graphics = [];
function txt(text, x, y, color, extra) {
  var e = extra || {};
  graphics.push({ type: 'text', x: x, y: y, rotation: e.rot ? Math.PI / 2 : 0, scaleX: e.sx || 1, z: 30, silent: true,
    style: { text: text, fill: color || '#000', font: (e.weight || 'normal') + ' ' + (e.size || 12) + 'px ' + (e.family || FONT), textAlign: e.align || 'left', textVerticalAlign: 'middle' } });
}
function leader(points, color, width) {
  graphics.push({ type: 'polyline', z: 25, silent: true, shape: { points: points }, style: { stroke: color, fill: 'none', lineWidth: width || 1 } });
}
function box(x, y, w, h, fill, r, z) {
  graphics.push({ type: 'rect', z: z || 30, silent: true, shape: { x: x, y: y, width: w, height: h, r: r || 0 }, style: { fill: fill } });
}

[['Czas lokalny',6,15,'#000'],['(CET/CEST)',6,26,'#000'],['Temperatura gruntu',6,42,'#a52a2a'],['max/min',27,52,'#a52a2a'],
 ['Temperatura:',6,64,'#000'],['punkt środkowy',13,76,'#f00'],['max/min',27,86,'#ffdcd0'],['odczuwana',10,98,'#0000e6'],['max/min',27,108,'#aee0ff'],
 ['Temp. punktu rosy',6,120,'#6a5acd'],['Opad powyżej skali',6,137,'#f00'],['Wilgotność względna',6,151,HUM],['Wystąpienie burzy',6,165,'#000'],
 ['Deszcz: max',6,179,'#00a800'],['średni',49,190,'#00a800'],['Śnieg:',6,201,'#1838c8'],['max',49,201,'#1838c8'],['średni',49,212,'#1838c8'],
 ['Wystąpienie opadu',6,224,'#f00'],['konwekcyjnego',6,237,'#f00'],['Ciśnienie',5,263,'#000'],['zredukowane',5,276,'#000'],['do poziomu morza',5,289,'#000'],
 ['Wiatr na 10m:',5,318,'#000'],['poryw powyżej skali',10,335,'#f00'],['max porywy wiatru',10,348,'#f00'],['prędkość wiatru',10,368,NAVY],['w środku obszaru',10,381,NAVY],
 ['kierunek wiatru',10,409,NAVY],['Wierzchołek chmur',6,429,'#a52a2a'],['Podstawa chmur*',6,444,'#000'],['o pokryciu',6,456,'#000'],
 ['> 7.9 okt.',11,468,'#000'],['> 6.5 okt.',11,479,'#555'],['> 4.5 okt.',10,490,'#999'],['> 2.5 okt.',11,500,'#ddd'],['Widzialność',6,526,ORANGE],
 ['Chmury:',6,543,'#000'],['średnie',10,569,'#999'],['niskie',10,581,'#333'],['bardzo niskie',10,593,'#333'],['Mgła',6,605,'#ffb400']
].forEach(function (r) { txt(r[0], r[1], r[2], r[3], { sx: .87 }); });
txt('Czas uniwersalny (UTC)', 6, 622, '#000');
box(11, 505, 44, 12, '#80d0ff');
txt('> 0.1 okt.', 11, 511, '#fff', { sx: .87 });
box(10, 551, 41, 12, '#80d0ff');
txt('wysokie', 11, 557, '#fff', { sx: .87 });
txt('* powyżej poziomu morza', 5, 648, '#000', { size: 10, weight: 'bold', sx: .88 });

var LEADERS = [
  [[[68,16],[132,16],[156,46]], '#000'], [[[100,43],[120,43],[157,105]], '#a52a2a'], [[[92,76],[115,76]], '#f00'], [[[130,76],[150,100]], '#f00'],
  [[[70,99],[135,99]], '#0000e6'], [[[93,120],[135,113]], '#6a5acd'], [[[103,137],[135,137],[146,146]], '#f00'], [[[106,151],[112,151]], HUM], [[[130,151],[145,168]], HUM],
  [[[103,165],[113,165]], '#000'], [[[130,165],[138,173]], '#000'], [[[70,179],[139,179]], '#00a800'], [[[80,190],[143,190]], '#00a800'],
  [[[75,201],[112,201]], '#1838c8'], [[[130,202],[160,171]], '#1838c8'], [[[80,212],[130,213],[160,178]], '#1838c8'], [[[97,224],[143,224]], '#f00'],
  [[[52,264],[131,264],[135,262]], '#000'], [[[112,334],[117,334]], '#f00'], [[[130,334],[138,317]], '#f00'], [[[107,348],[130,348],[145,340]], '#f00'],
  [[[92,368],[135,368]], NAVY], [[[84,409],[135,409]], NAVY], [[[100,429],[135,430],[165,440]], '#a52a2a'],
  [[[57,468],[135,468],[190,456]], '#000'], [[[57,481],[135,481]], '#555'], [[[57,490],[132,490],[138,500]], '#999'], [[[57,500],[130,500],[136,507]], '#ccc'],
  [[[57,511],[135,511]], '#80d0ff'], [[[57,513],[135,513]], '#80d0ff'], [[[67,527],[130,527],[172,462]], ORANGE],
  [[[54,556],[185,556]], '#80d0ff'], [[[54,558],[185,558]], '#80d0ff'], [[[50,570],[193,570]], '#999'], [[[40,582],[120,582]], '#000'], [[[130,582],[135,582]], '#000'],
  [[[74,594],[150,594]], '#000'], [[[28,605],[218,605],[218,590]], '#ffb400'], [[[140,623],[147,623],[157,608]], '#000']
];
LEADERS.forEach(function (l) { leader(l[0], l[1]); });

// header above the main chart
txt('wschód słońca: 07:09 CET', 290, 128, NAVY);
txt('zachód słońca: 16:25 CET', 292, 141, NAVY);
txt('21°40\'27"E, 54°10\'38"N', 610, 128, NAVY, { align: 'center' });
txt('(x=260,  y=350)', 610, 141, NAVY, { align: 'center' });
txt('wysokość (min, środek, max)', 818, 128, NAVY, { align: 'center' });
txt('75 - 128 - 153 m', 818, 141, NAVY, { align: 'center' });
txt('sob, 07.02', 420, 157, '#000', { align: 'center' });
txt('nie, 08.02', 570, 157, '#000', { align: 'center' });
txt('pon, 09.02', 727, 157, '#000', { align: 'center' });
txt('CET', 307, 170, '#000');
txt('CET', 860, 170, '#000');

// rotated axis titles
[['temperatura',289,216],['(°C)',303,216],['opad',289,304],['(mm/h, kg/m²/h)',303,305],['ciśnienie',290,392],['(hPa)',303,392],
 ['wiatr',290,481],['(m/s)',303,481],['(km)',303,593]].forEach(function (r) { txt(r[0], r[1], r[2], NAVY, { rot: true, align: 'center' }); });
[['(°C)',888,216],['temperatura',902,216],['(%)',888,305],['wilgotność wzgl.',902,305],['(mm Hg)',888,392],['ciśnienie',902,392],
 ['(km/h)',888,481],['wiatr',902,481],['(km)',888,595],['widzialność',903,595]].forEach(function (r) { txt(r[0], r[1], r[2], NAVY, { rot: true, align: 'center' }); });
txt('e pion. rozciągł. chm.*', 288, 548, NAVY, { rot: true, align: 'right' });

// compass letters next to the wind direction panels
[[284,536],[883,536]].forEach(function (p) {
  txt('W', p[0], p[1], NAVY, { size: 13 });
  txt('N', p[0] + 11, p[1] - 9, NAVY, { size: 13 });
  txt('E', p[0] + 18, p[1], NAVY, { size: 13 });
  txt('S', p[0] + 11, p[1] + 8, NAVY, { size: 13 });
});

// advert banner
graphics.push({ type: 'rect', z: 10, silent: true, shape: { x: 280, y: 0, width: 630, height: 120 },
  style: { fill: new echarts.graphic.LinearGradient(0, 0, 1, 0, [
    { offset: 0, color: '#0d4da0' }, { offset: .38, color: '#11509f' }, { offset: .5, color: '#3f77b6' }, { offset: .62, color: '#2e68ae' },
    { offset: .75, color: '#3a73b5' }, { offset: .88, color: '#2a63ab' }, { offset: 1, color: '#1b57a4' }]) } });
var AD = '"Open Sans", sans-serif';
txt('Oficjalna aplikacja', 311, 32, '#fff', { size: 19.2, family: AD });
graphics.push({ type: 'text', x: 311, y: 61, z: 30, silent: true, style: {
  text: '{b|Meteo ICM} do pobrania', fill: '#fff', font: '19.2px ' + AD, textVerticalAlign: 'middle',
  rich: { b: { fontWeight: 'bold', fontSize: 19.2, fontFamily: 'Open Sans', fill: '#fff' } } } });
txt('w Google Play i App Store', 311, 90, '#fff', { size: 19.2, family: AD });
box(593, 6, 51, 114, '#1a1d24', 7, 12);
box(595, 8, 47, 112, '#10315f', 6, 13);
box(598, 25, 41, 8, '#1d3f6e', 2, 14);
txt('25°', 621, 45, '#dfe8f2', { size: 9 });
box(650, 22, 51, 98, '#24262a', 7, 12);
box(652, 24, 47, 96, '#4b5650', 6, 13);
box(656, 40, 38, 7, '#cfd4d0', 2, 14);
box(624, 46, 46, 74, '#1a1d24', 7, 15);
box(626, 48, 42, 72, '#ffffff', 6, 16);
box(628, 59, 38, 6, '#3a3d42', 1, 17);
box(630, 78, 34, 9, '#8fc8ef', 0, 17);
box(630, 88, 34, 17, '#f4f4f4', 0, 17);
box(630, 107, 34, 10, '#d8e05a', 0, 17);
txt('icmmeteo', 764, 85, '#fff', { size: 19.5, weight: 'bold', family: 'Roboto' });
graphics.push({ type: 'arc', z: 20, silent: true, shape: { cx: 768, cy: 84, r: 13, startAngle: 1.2, endAngle: 4.9, clockwise: true }, style: { stroke: '#fff', fill: 'none', lineWidth: 1.5 } });
box(861, 74, 25, 24, '#fff', 2, 20);
txt('M°', 873.5, 86, '#1b57a4', { size: 14, weight: 'bold', align: 'center', family: 'Roboto' });

var myChart = echarts.init(document.getElementById('myCanvas'), null, { renderer: 'canvas' });
myChart.setOption({
  animation: false,
  backgroundColor: '#fff',
  tooltip: { show: false },
  textStyle: { fontFamily: FONT },
  grid: grids,
  xAxis: xAxes,
  yAxis: yAxes,
  series: series,
  graphic: { elements: graphics }
});
</script>
</body>
</html>
